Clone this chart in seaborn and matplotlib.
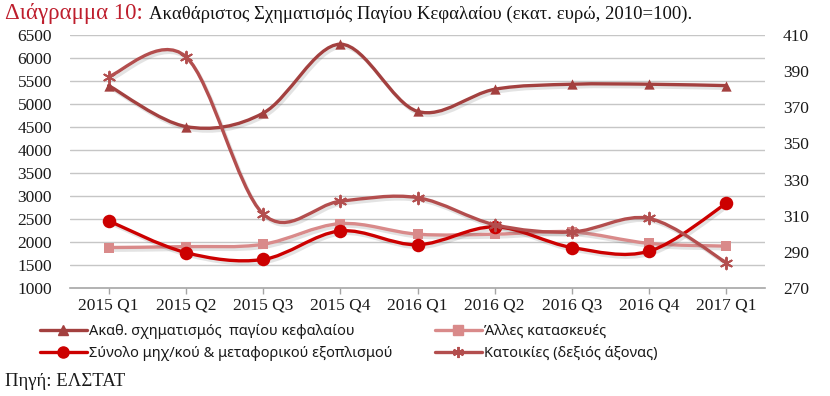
import numpy as np
import pandas as pd
import matplotlib
matplotlib.use("Agg")
import matplotlib.pyplot as plt
import seaborn as sns
from matplotlib.path import Path
from matplotlib.patches import PathPatch
from matplotlib.lines import Line2D
import matplotlib.patheffects as pe

# ---------------- data ----------------
categories = ["2015 Q1", "2015 Q2", "2015 Q3", "2015 Q4", "2016 Q1",
              "2016 Q2", "2016 Q3", "2016 Q4", "2017 Q1"]
total_gfcf = [5400, 4510, 4800, 6300, 4840, 5320, 5430, 5430, 5400]
other_constructions = [1880, 1900, 1950, 2400, 2170, 2170, 2220, 1970, 1910]
machinery_transport = [2460, 1770, 1620, 2240, 1940, 2330, 1880, 1800, 2840]
dwellings_right = [387, 398, 311, 318, 320, 305, 301, 308.5, 284]

left_ticks = [1000, 1500, 2000, 2500, 3000, 3500, 4000, 4500, 5000, 5500, 6000, 6500]
right_ticks = [270, 290, 310, 330, 350, 370, 390, 410]

labels = ["Ακαθ. σχηματισμός  παγίου κεφαλαίου",
          "Σύνολο μηχ/κού & μεταφορικού εξοπλισμού",
          "Άλλες κατασκευές",
          "Κατοικίες (δεξιός άξονας)"]
title_red = "Διάγραμμα 10: "
title_black = "Ακαθάριστος Σχηματισμός Παγίου Κεφαλαίου (εκατ. ευρώ, 2010=100)."
source = "Πηγή: ΕΛΣΤΑΤ"

c_total = "#A3403F"
c_other = "#D98A8A"
c_mach = "#CC0000"
c_dwell = "#B34E4E"

sns.set_theme(style="white")
serif = ["Liberation Serif", "DejaVu Serif"]
sansf = ["Noto Sans", "DejaVu Sans"]
plt.rcParams["font.family"] = serif

fig = plt.figure(figsize=(8.30, 3.96), dpi=100)
ax = fig.add_axes([70 / 830, 1 - 288 / 396, 695 / 830, 253 / 396])
ax2 = ax.twinx()

x = np.arange(len(categories))


def smooth_path(xs, ys):
    xs = np.asarray(xs, float)
    ys = np.asarray(ys, float)
    pts = np.column_stack([xs, ys])
    n = len(pts)
    verts = [pts[0]]
    codes = [Path.MOVETO]
    for i in range(n - 1):
        p0 = pts[max(i - 1, 0)]
        p1 = pts[i]
        p2 = pts[i + 1]
        p3 = pts[min(i + 2, n - 1)]
        c1 = p1 + (p2 - p0) / 6.0
        c2 = p2 - (p3 - p1) / 6.0
        verts += [c1, c2, p2]
        codes += [Path.CURVE4] * 3
    return Path(verts, codes)


shadow = [pe.SimpleLineShadow(offset=(1.5, -2), alpha=0.16, shadow_color="#555555"), pe.Normal()]

def draw_series(a, ys, color, lw, z):
    patch = PathPatch(smooth_path(x, ys), facecolor="none", edgecolor=color,
                      lw=lw, zorder=z, capstyle="round", joinstyle="round")
    patch.set_path_effects(shadow)
    a.add_patch(patch)

draw_series(ax, total_gfcf, c_total, 2.4, 3)
draw_series(ax, other_constructions, c_other, 2.4, 3)
draw_series(ax, machinery_transport, c_mach, 2.4, 4)
draw_series(ax2, dwellings_right, c_dwell, 2.4, 3)

df = pd.DataFrame({"x": x, "total": total_gfcf, "other": other_constructions,
                   "mach": machinery_transport, "dwell": dwellings_right})
sns.scatterplot(data=df, x="x", y="total", ax=ax, marker="^", s=55, color=c_total,
                edgecolor=c_total, linewidth=0, zorder=5)
sns.scatterplot(data=df, x="x", y="other", ax=ax, marker="s", s=50, color=c_other,
                edgecolor=c_other, linewidth=0, zorder=5)
sns.scatterplot(data=df, x="x", y="mach", ax=ax, marker="o", s=95, color=c_mach,
                edgecolor=c_mach, linewidth=0, zorder=6)
sns.scatterplot(data=df, x="x", y="dwell", ax=ax2, marker=(6, 2, 0), s=70, color=c_dwell,
                edgecolor=c_dwell, linewidth=1.4, zorder=5)

ax.set_xlim(-0.5, len(categories) - 0.5)
ax.set_ylim(1000, 6500)
ax2.set_ylim(270, 410)
ax.set_yticks(left_ticks)
ax2.set_yticks(right_ticks)
ax.set_xticks(x)
ax.set_xticklabels(categories)
ax.set_xlabel("")
ax.set_ylabel("")
ax2.set_ylabel("")

ax.grid(False)
ax2.grid(False)
for yv in left_ticks[1:]:
    ax.axhline(yv, color="#C6C6C6", lw=1.0, zorder=1)

for a in (ax, ax2):
    for s in a.spines.values():
        s.set_visible(False)
ax.spines["bottom"].set_visible(True)
ax.spines["bottom"].set_color("#A6A6A6")
ax.spines["bottom"].set_linewidth(1.2)

tick_fs = 12.5
ax.tick_params(axis="x", length=4, width=1, color="#A6A6A6", pad=3,
               labelsize=tick_fs, labelcolor="#1a1a1a", direction="out", bottom=True)
ax.tick_params(axis="y", length=0, pad=13, labelsize=tick_fs, labelcolor="#1a1a1a")
ax2.tick_params(axis="y", length=0, pad=13, labelsize=tick_fs, labelcolor="#1a1a1a")
for lab in ax.get_xticklabels() + ax.get_yticklabels() + ax2.get_yticklabels():
    lab.set_family(serif)

# legends
h_total = Line2D([], [], color=c_total, lw=2.4, marker="^", ms=7)
h_mach = Line2D([], [], color=c_mach, lw=2.4, marker="o", ms=8)
h_other = Line2D([], [], color=c_other, lw=2.4, marker="s", ms=7)
h_dwell = Line2D([], [], color=c_dwell, lw=2.4, marker=(6, 2, 0), ms=8, mew=1.4)

leg_kw = dict(frameon=False, handlelength=3.2, handletextpad=0.15, borderpad=0,
              borderaxespad=0, labelspacing=0.5, loc="upper left",
              prop={"family": sansf, "size": 10.5})
l1 = fig.legend([h_total, h_mach], labels[:2], bbox_to_anchor=(40 / 830, 1 - 324 / 396), **leg_kw)
l2 = fig.legend([h_other, h_dwell], labels[2:], bbox_to_anchor=(435 / 830, 1 - 324 / 396), **leg_kw)
for lg in (l1, l2):
    for t in lg.get_texts():
        t.set_color("#1a1a1a")

# title
t1 = fig.text(5 / 830, 1 - 14 / 396, title_red, color="#BE1E2D", fontsize=16.5,
              family=serif, va="center", ha="left")
fig.canvas.draw()
r = fig.canvas.get_renderer()
bb = t1.get_window_extent(renderer=r)
t2 = fig.text(bb.x1 / 830, 1 - 14 / 396, title_black, color="#111111", fontsize=13.5,
              family=serif, va="center", ha="left")
fig.text(5 / 830, 1 - 382 / 396, source, color="#1a1a1a", fontsize=13.5,
         family=serif, va="center", ha="left")

fig.savefig("out.png", dpi=100, facecolor="white")
